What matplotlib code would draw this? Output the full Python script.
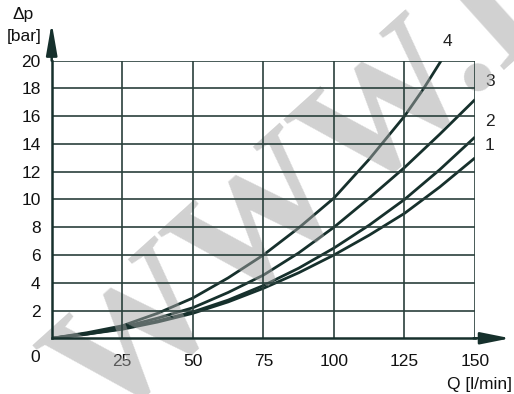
import matplotlib
matplotlib.use("Agg")
import matplotlib.pyplot as plt
from matplotlib.patches import FancyArrowPatch

# flow Q [l/min] and pressure drop dp [bar] for the four curves
q = [0, 12.5, 25, 37.5, 50, 62.5, 75, 87.5, 100, 112.5, 125, 137.5, 150]
dp1 = [0, 0.3, 0.65, 1.17, 1.8, 2.62, 3.6, 4.72, 6.0, 7.43, 9.0, 10.9, 13.0]
dp2 = [0, 0.3, 0.7, 1.25, 1.9, 2.75, 3.8, 5.05, 6.5, 8.15, 10.0, 12.15, 14.5]
dp3 = [0, 0.35, 0.8, 1.45, 2.2, 3.3, 4.55, 6.15, 8.0, 10.1, 12.3, 14.7, 17.2]
q4 = [0, 12.5, 25, 37.5, 50, 62.5, 75, 87.5, 100, 112.5, 125, 131.5, 138]
dp4 = [0, 0.4, 0.9, 1.8, 2.9, 4.35, 6.0, 7.95, 10.1, 12.9, 16.0, 17.9, 20.0]

x_ticks = [25, 50, 75, 100, 125, 150]
y_ticks = [2, 4, 6, 8, 10, 12, 14, 16, 18, 20]

plt.rcParams['font.family'] = ['Liberation Sans', 'DejaVu Sans']
ink = '#16302c'
grid_col = '#2a403c'
fs = 12.5

fig = plt.figure(figsize=(5.14, 3.94), dpi=100)
ax = fig.add_axes([0.1006, 0.1414, 0.8236, 0.7046])

ax.set_xlim(0, 150)
ax.set_ylim(0, 20)

for v in x_ticks:
    ax.axvline(v, color=grid_col, lw=1.2, zorder=3)
for v in y_ticks:
    ax.axhline(v, color=grid_col, lw=1.2, zorder=3)

for xs, ys in [(q, dp1), (q, dp2), (q, dp3), (q4, dp4)]:
    ax.plot(xs, ys, color=ink, lw=2.0, zorder=2, solid_capstyle='butt')

for s in ['top', 'right']:
    ax.spines[s].set_visible(False)
for s in ['left', 'bottom']:
    ax.spines[s].set_color(ink)
    ax.spines[s].set_linewidth(1.8)
    ax.spines[s].set_zorder(4)

ax.set_xticks(x_ticks)
ax.set_yticks(y_ticks)
ax.tick_params(length=0, labelsize=fs, colors='#111111')
ax.tick_params(axis='x', pad=11)
ax.tick_params(axis='y', pad=8)

# axis arrows
ya = FancyArrowPatch((0, 0.99), (0, 1.146), transform=ax.transAxes,
                     arrowstyle='-|>,head_length=19,head_width=3.3',
                     mutation_scale=1, color=ink, lw=1.8, clip_on=False, zorder=4)
xa = FancyArrowPatch((0.99, 0), (1.09, 0), transform=ax.transAxes,
                     arrowstyle='-|>,head_length=18,head_width=3.6',
                     mutation_scale=1, color=ink, lw=1.8, clip_on=False, zorder=4)
ax.add_patch(ya)
ax.add_patch(xa)

fig.text(35 / 514, 1 - 358 / 394, '0', fontsize=fs, ha='center', va='center', color='#111111')
fig.text(512 / 514, 1 - 384 / 394, 'Q [l/min]', fontsize=fs, ha='right', va='center', color='#111111')
fig.text(23 / 514, 1 - 15 / 394, '\u0394p', fontsize=fs, ha='center', va='center', color='#111111')
fig.text(24 / 514, 1 - 36 / 394, '[bar]', fontsize=fs, ha='center', va='center', color='#111111')

# curve numbers
for lbl, px, py in [('4', 447, 42), ('3', 490, 82), ('2', 490, 121), ('1', 490, 146)]:
    ax.text(px / 514, 1 - py / 394, lbl, fontsize=fs, ha='center', va='center', color='#222222',
            transform=fig.transFigure, clip_on=False, zorder=2)

# watermark: over curves and tick labels, under the grid
ax.text(105 / 514, 1 - 428 / 394, 'WWW.L', fontsize=122, family='Liberation Serif',
        weight='bold', rotation=42, rotation_mode='anchor', ha='left', va='baseline',
        color='#a4a4a4', alpha=0.5, zorder=2.6, transform=fig.transFigure, clip_on=False)

fig.savefig('out.png', dpi=100)
